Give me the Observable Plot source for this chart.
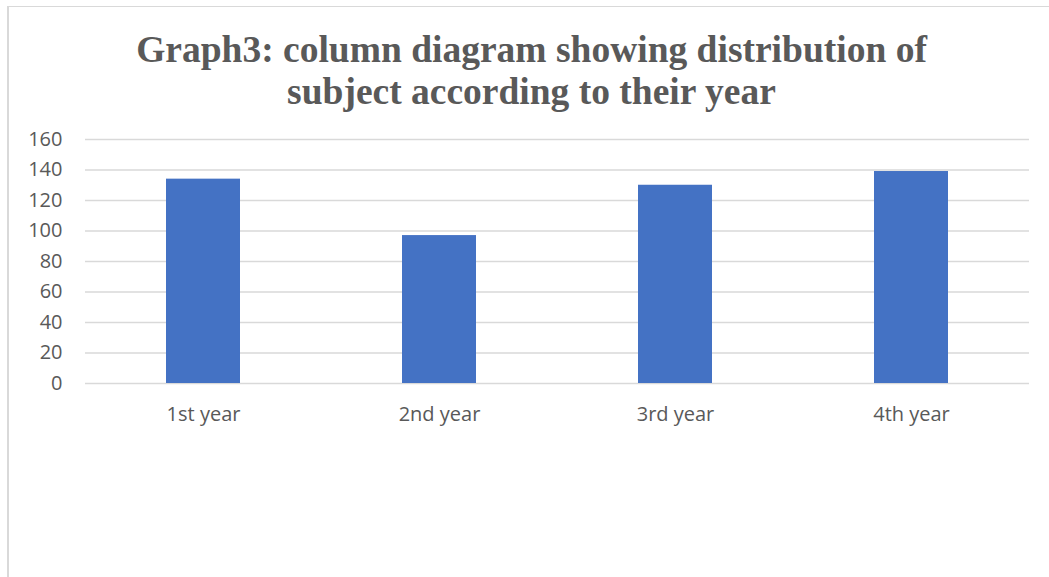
<!DOCTYPE html>
<html>
<head>
<meta charset="utf-8">
<script src="https://cdn.jsdelivr.net/npm/d3@7"></script>
<script src="https://cdn.jsdelivr.net/npm/@observablehq/plot@0.6"></script>
<style>
  html, body { margin: 0; padding: 0; background: #fff; width: 1049px; height: 577px; overflow: hidden; }
  .frame {
    position: absolute; left: 7px; top: 6px; width: 1100px; height: 620px;
    border-top: 1.5px solid #d9d9d9; border-left: 2px solid #d9d9d9; box-sizing: border-box;
  }
  .title {
    position: absolute; left: 7px; top: 29px; width: 1049px; text-align: center;
    font-family: "Liberation Serif", "Times New Roman", serif; font-weight: bold;
    font-size: 37.5px; line-height: 42px; color: #595959;
  }
  #chart { position: absolute; left: 0; top: 119px; }
</style>
</head>
<body>
<div class="frame"></div>
<div class="title">Graph3: column diagram showing distribution of<br>subject according to their year</div>
<div id="chart"></div>
<script>
// Number of subjects in each year of study
const years = ["1st year", "2nd year", "3rd year", "4th year"];
const counts = [134, 97, 130, 139];
const yTicks = [0, 20, 40, 60, 80, 100, 120, 140, 160];

const rows = years.map((year, i) => ({year, count: counts[i]}));

const chart = Plot.plot({
  width: 1049,
  height: 320,
  marginTop: 20,
  marginBottom: 56,
  marginLeft: 85,
  marginRight: 20,
  style: {fontFamily: "'Open Sans', sans-serif", fontSize: "20px", color: "#595959", background: "transparent"},
  x: {domain: years, paddingInner: 0.686, paddingOuter: 0.343, label: null},
  y: {domain: [0, 160], label: null},
  marks: [
    Plot.gridY(yTicks, {stroke: "#d9d9d9", strokeOpacity: 1, strokeWidth: 1.5}),
    Plot.barY(rows, {x: "year", y: "count", fill: "#4472c4"}),
    Plot.axisY(yTicks, {tickSize: 0, tickPadding: 23, label: null}),
    Plot.axisX({tickSize: 0, tickPadding: 23, label: null})
  ]
});
document.getElementById("chart").appendChild(chart);
</script>
</body>
</html>
